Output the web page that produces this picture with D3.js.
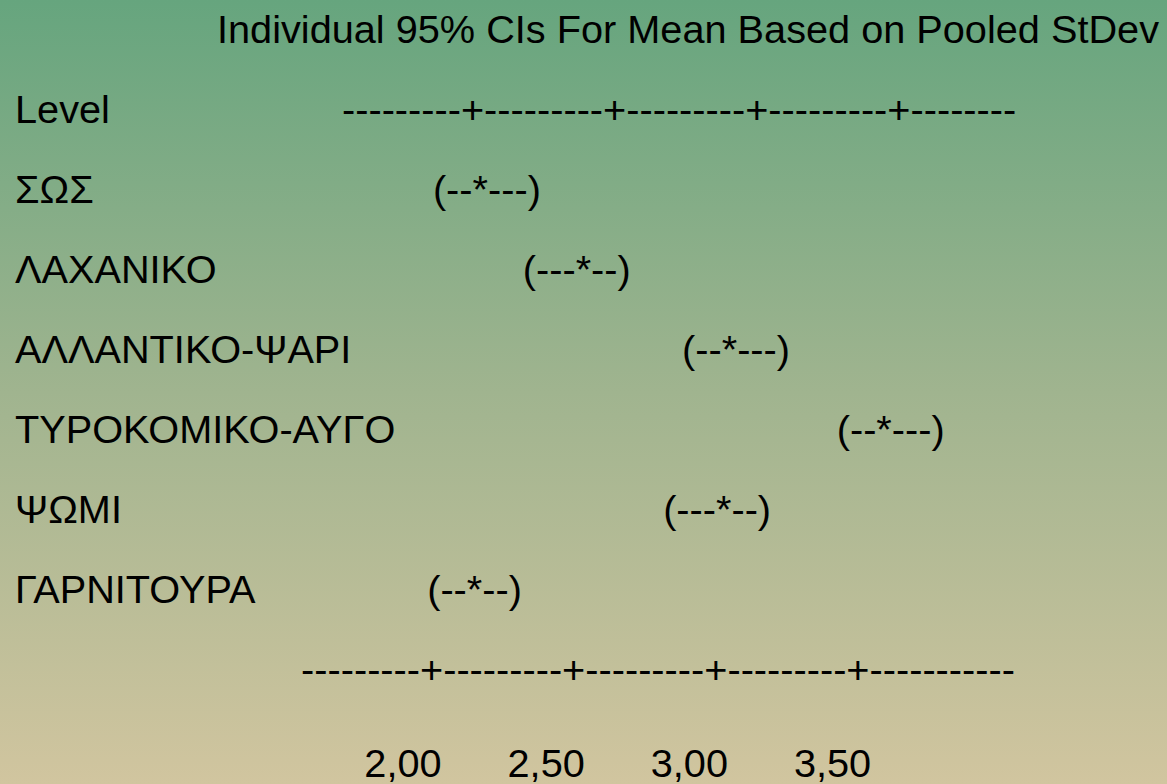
<!DOCTYPE html>
<html>
<head>
<meta charset="utf-8">
<script src="https://cdn.jsdelivr.net/npm/d3@7"></script>
<style>
  html, body { margin: 0; padding: 0; overflow: hidden; }
  text { font-family: "Liberation Sans", Arial, Helvetica, sans-serif; fill: #000; }
</style>
</head>
<body>
<svg id="chart" width="1167" height="784"></svg>
<script>
// One-way ANOVA: individual 95% confidence intervals per food group
const title = "Individual 95% CIs For Mean Based on Pooled StDev";
const levelHeader = "Level";
const levels = ["ΣΩΣ", "ΛΑΧΑΝΙΚΟ", "ΑΛΛΑΝΤΙΚΟ-ΨΑΡΙ", "ΤΥΡΟΚΟΜΙΚΟ-ΑΥΓΟ", "ΨΩΜΙ", "ΓΑΡΝΙΤΟΥΡΑ"];
const means = [2.17, 2.53, 3.04, 3.58, 3.02, 2.15];
const intervals = ["(--*---)", "(---*--)", "(--*---)", "(--*---)", "(---*--)", "(--*--)"];
const tickValues = [2.00, 2.50, 3.00, 3.50];
const tickLabels = ["2,00", "2,50", "3,00", "3,50"];

const W = 1167, H = 784;
const fontSize = 39.7;
const svg = d3.select("#chart");

// background gradient, green at the top fading to sand at the bottom
const defs = svg.append("defs");
const grad = defs.append("linearGradient")
  .attr("id", "bg").attr("x1", 0).attr("y1", 0).attr("x2", 0).attr("y2", 1);
grad.append("stop").attr("offset", "0%").attr("stop-color", "#66a57e");
grad.append("stop").attr("offset", "50%").attr("stop-color", "#a0b48f");
grad.append("stop").attr("offset", "100%").attr("stop-color", "#d1c59f");
svg.append("rect").attr("width", W).attr("height", H).attr("fill", "url(#bg)");

// value scale for the text ruler and the interval markers
const x = d3.scaleLinear().domain([2.0, 3.5]).range([431.6, 861.2]);
// row baselines
const y = d3.scalePoint().domain(levels).range([202.7, 602.7]);

const g = svg.append("g").style("font-size", fontSize + "px");

// title
g.append("text").attr("x", 217).attr("y", 43.3).text(title);

// header row
g.append("text").attr("x", 15).attr("y", 122.7).text(levelHeader);

// character ruler built from the tick list
function ruler(lead, tail) {
  return "-".repeat(lead) + tickValues.map((t, i) =>
    "+" + "-".repeat(i < tickValues.length - 1 ? 9 : tail)).join("");
}

// top ruler next to the header
g.append("text").attr("x", 342).attr("y", 122.7).text(ruler(9, 8));

// bottom ruler: each "+" sits on its tick value
const bottom = g.append("text").attr("y", 683).text(ruler(9, 11));
{
  const s = bottom.text();
  const node = bottom.node();
  const firstPlus = s.indexOf("+");
  const pre = node.getSubStringLength(0, firstPlus);
  const plusW = node.getSubStringLength(firstPlus, 1);
  bottom.attr("x", x(tickValues[0]) - pre - plusW / 2);
}

// tick labels
g.selectAll("text.tick")
  .data(tickValues)
  .join("text")
  .attr("class", "tick")
  .attr("text-anchor", "end")
  .attr("x", d => x(d) + 10)
  .attr("y", 777)
  .text((d, i) => tickLabels[i]);

// level names
g.selectAll("text.level")
  .data(levels)
  .join("text")
  .attr("class", "level")
  .attr("x", 15)
  .attr("y", d => y(d))
  .text(d => d);

// interval markers, with the "*" centred on the group mean
g.selectAll("text.ci")
  .data(levels.map((name, i) => ({ name, mean: means[i], mark: intervals[i] })))
  .join("text")
  .attr("class", "ci")
  .attr("y", d => y(d.name))
  .text(d => d.mark)
  .each(function (d) {
    const idx = d.mark.indexOf("*");
    const pre = this.getSubStringLength(0, idx);
    const starW = this.getSubStringLength(idx, 1);
    d3.select(this).attr("x", x(d.mean) - pre - starW / 2);
  });
</script>
</body>
</html>
